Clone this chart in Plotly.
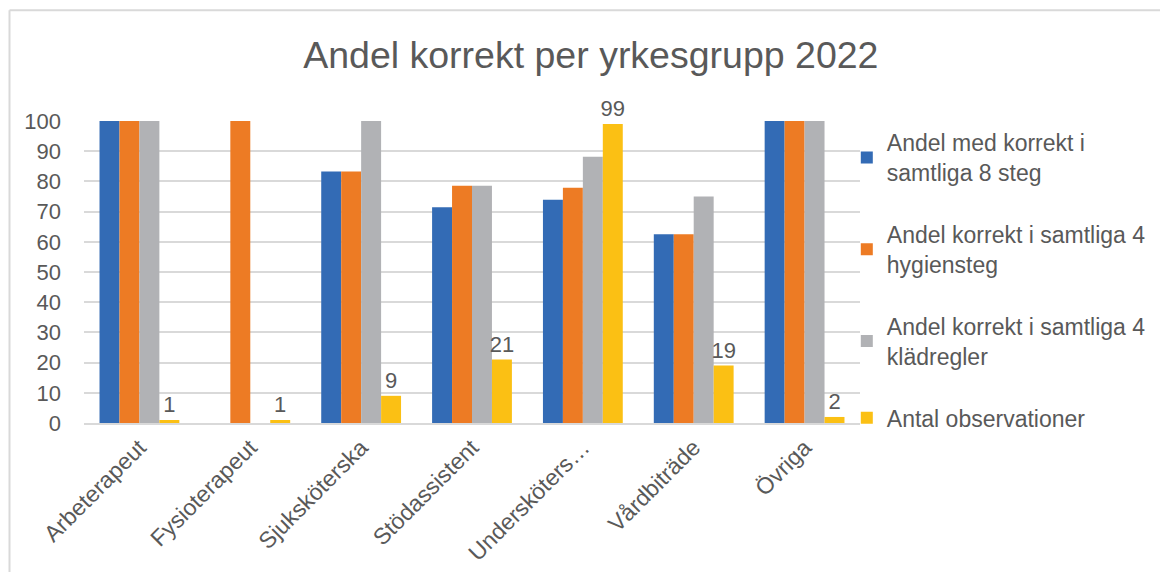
import plotly.graph_objects as go

# ── Data ─────────────────────────────────────────────────────────────────────
categories = ["Arbeterapeut", "Fysioterapeut", "Sjuksköterska", "Stödassistent",
              "Undersköters…", "Vårdbiträde", "Övriga"]

andel_8_steg = [100, None, 83.3, 71.4, 73.9, 62.5, 100]
andel_hygien = [100, 100, 83.3, 78.6, 77.9, 62.5, 100]
andel_klader = [100, None, 100, 78.6, 88.2, 75.0, 100]
antal_obs = [1, 1, 9, 21, 99, 19, 2]

series_names = [
    "Andel med korrekt i<br>samtliga 8 steg",
    "Andel korrekt i samtliga 4<br>hygiensteg",
    "Andel korrekt i samtliga 4<br>klädregler",
    "Antal observationer",
]
y_ticks = list(range(0, 101, 10))

# ── Styling ──────────────────────────────────────────────────────────────────
COLOURS = ["#336BB5", "#ED7B24", "#B1B2B5", "#FBC014"]
TEXT = "#595959"
GRID = "#D9D9D9"
FONT = "Liberation Sans, Arial, sans-serif"

fig = go.Figure()
for i, vals in enumerate([andel_8_steg, andel_hygien, andel_klader, antal_obs]):
    is_count = i == 3
    fig.add_trace(go.Bar(
        x=categories,
        y=vals,
        name=series_names[i],
        legendgroup=f"g{i}",
        marker=dict(color=COLOURS[i], line=dict(width=0)),
        text=[str(v) for v in vals] if is_count else None,
        textposition="outside" if is_count else "none",
        constraintext="none",
        textfont=dict(size=22, color=TEXT, family=FONT),
        cliponaxis=False,
    ))

# outer chart frame (Excel chart-area border)
fig.add_shape(type="line", xref="paper", yref="paper",
              x0=-0.096, x1=1.45, y0=1.367, y1=1.367,
              line=dict(color=GRID, width=2))
fig.add_shape(type="line", xref="paper", yref="paper",
              x0=-0.096, x1=-0.096, y0=1.367, y1=-0.6,
              line=dict(color=GRID, width=2))

fig.update_layout(
    width=1168, height=572,
    margin=dict(l=76, r=316, t=113, b=157),
    paper_bgcolor="#FFFFFF",
    plot_bgcolor="#FFFFFF",
    font=dict(family=FONT, color=TEXT, size=22),
    title=dict(text="Andel korrekt per yrkesgrupp 2022",
               x=0.499, xanchor="center", y=0.918, yanchor="middle",
               font=dict(size=37.5, color=TEXT, family=FONT)),
    barmode="group",
    bargap=0.28,
    bargroupgap=0,
    showlegend=True,
    legend=dict(
        x=0.983, xanchor="left", y=1.0, yanchor="top",
        traceorder="grouped",
        tracegroupgap=29,
        maxheight=500,
        font=dict(size=23, color=TEXT, family=FONT),
        bgcolor="rgba(0,0,0,0)",
        itemclick=False,
    ),
)

fig.update_xaxes(
    tickangle=-45,
    tickfont=dict(size=23, color=TEXT),
    showgrid=False,
    showline=True, linecolor=GRID, linewidth=2,
    ticks="",
)
fig.update_yaxes(
    range=[0, 100],
    tickmode="array",
    tickvals=y_ticks,
    tickfont=dict(size=22, color=TEXT),
    showgrid=True, gridcolor=GRID, gridwidth=2,
    zeroline=False,
    showline=False,
    ticks="",
    ticklabelstandoff=22,
)

fig.write_html("out.html")
